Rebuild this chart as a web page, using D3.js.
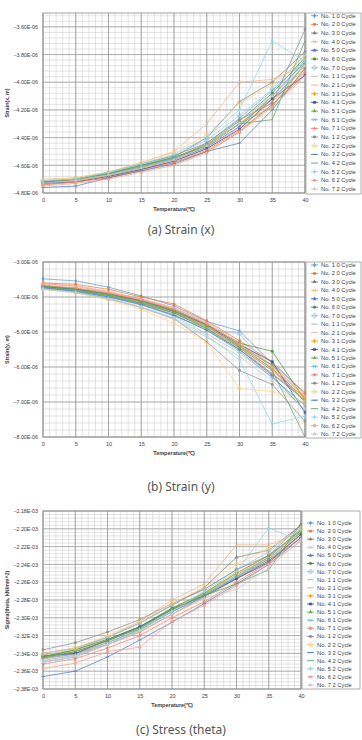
<!DOCTYPE html>
<html>
<head>
<meta charset="utf-8">
<script src="https://cdn.jsdelivr.net/npm/d3@7"></script>
<style>
body { margin: 0; background: #fff; }
svg text { font-family: "Liberation Sans", Arial, sans-serif; fill: #404040; }
.caption { font-family: "Noto Sans", "DejaVu Sans", sans-serif !important; fill: #555 !important; }
</style>
</head>
<body>
<div id="chart"></div>
<script>
const temps = [0, 5, 10, 15, 20, 25, 30, 35, 40];

const seriesNames = [
    "No. 1 0 Cycle", "No. 2 0 Cycle", "No. 3 0 Cycle", "No. 4 0 Cycle", "No. 5 0 Cycle", "No. 6 0 Cycle", "No. 7 0 Cycle",
    "No. 1 1 Cycle", "No. 2 1 Cycle", "No. 3 1 Cycle", "No. 4 1 Cycle", "No. 5 1 Cycle", "No. 6 1 Cycle", "No. 7 1 Cycle",
    "No. 1 2 Cycle", "No. 2 2 Cycle", "No. 3 2 Cycle", "No. 4 2 Cycle", "No. 5 2 Cycle", "No. 6 2 Cycle", "No. 7 2 Cycle"
];

// strain x, in E-06 m
const strainX = [
    [-4.72, -4.71, -4.67, -4.62, -4.55, -4.46, -4.30, -4.12, -3.88],
    [-4.74, -4.72, -4.69, -4.63, -4.58, -4.50, -4.36, -4.16, -3.95],
    [-4.72, -4.70, -4.66, -4.61, -4.54, -4.40, -4.14, -4.00, -3.78],
    [-4.70, -4.69, -4.65, -4.58, -4.50, -4.30, -4.00, -3.98, -3.88],
    [-4.73, -4.71, -4.67, -4.62, -4.56, -4.47, -4.32, -4.10, -3.85],
    [-4.72, -4.70, -4.66, -4.60, -4.55, -4.45, -4.28, -4.08, -3.82],
    [-4.71, -4.70, -4.66, -4.60, -4.53, -4.42, -4.24, -4.05, -3.80],
    [-4.73, -4.71, -4.67, -4.62, -4.55, -4.45, -4.28, -4.10, -3.86],
    [-4.74, -4.72, -4.68, -4.63, -4.57, -4.48, -4.33, -4.14, -3.92],
    [-4.72, -4.71, -4.67, -4.61, -4.55, -4.45, -4.30, -4.12, -3.90],
    [-4.73, -4.72, -4.68, -4.63, -4.57, -4.48, -4.34, -4.12, -3.95],
    [-4.72, -4.70, -4.66, -4.60, -4.55, -4.46, -4.30, -4.18, -3.86],
    [-4.72, -4.70, -4.66, -4.61, -4.55, -4.44, -4.26, -4.06, -3.84],
    [-4.74, -4.72, -4.69, -4.64, -4.58, -4.49, -4.35, -4.16, -3.93],
    [-4.72, -4.70, -4.65, -4.59, -4.53, -4.44, -4.27, -4.15, -3.62],
    [-4.71, -4.69, -4.65, -4.58, -4.51, -4.38, -4.15, -4.02, -3.82],
    [-4.76, -4.75, -4.69, -4.64, -4.59, -4.50, -4.44, -4.20, -3.90],
    [-4.72, -4.70, -4.66, -4.60, -4.54, -4.46, -4.30, -4.27, -3.70],
    [-4.71, -4.70, -4.65, -4.59, -4.52, -4.40, -4.20, -3.70, -3.85],
    [-4.75, -4.73, -4.70, -4.65, -4.60, -4.51, -4.36, -4.18, -3.96],
    [-4.73, -4.71, -4.67, -4.62, -4.56, -4.46, -4.30, -4.10, -3.88]
];

// strain y, in E-06 m
const strainY = [
    [-3.48, -3.54, -3.72, -3.97, -4.25, -4.70, -4.97, -5.90, -6.75],
    [-3.60, -3.64, -3.78, -4.00, -4.20, -4.68, -5.25, -5.85, -6.75],
    [-3.74, -3.82, -3.98, -4.18, -4.45, -4.90, -5.50, -6.20, -6.95],
    [-3.70, -3.78, -3.92, -4.10, -4.38, -4.80, -5.35, -5.95, -6.85],
    [-3.72, -3.80, -3.95, -4.15, -4.42, -4.85, -5.40, -6.05, -7.00],
    [-3.68, -3.76, -3.90, -4.10, -4.36, -4.78, -5.32, -5.55, -6.95],
    [-3.70, -3.78, -3.96, -4.20, -4.55, -4.90, -5.05, -6.10, -7.00],
    [-3.76, -3.84, -4.00, -4.22, -4.55, -5.05, -5.60, -6.30, -7.10],
    [-3.62, -3.68, -3.84, -4.05, -4.30, -4.72, -5.30, -5.95, -6.80],
    [-3.72, -3.80, -3.96, -4.16, -4.44, -4.86, -5.42, -6.05, -6.90],
    [-3.70, -3.78, -3.92, -4.12, -4.40, -4.80, -5.36, -5.85, -7.30],
    [-3.68, -3.76, -3.92, -4.12, -4.40, -4.82, -5.40, -5.95, -7.00],
    [-3.74, -3.82, -3.98, -4.20, -4.50, -4.95, -5.55, -6.30, -7.10],
    [-3.66, -3.74, -3.88, -4.08, -4.35, -4.78, -5.45, -6.20, -6.85],
    [-3.76, -3.86, -4.04, -4.30, -4.62, -5.28, -6.10, -6.50, -7.55],
    [-3.78, -3.88, -4.08, -4.35, -4.75, -5.30, -6.62, -6.70, -7.00],
    [-3.74, -3.84, -4.00, -4.22, -4.52, -4.95, -5.50, -6.25, -7.25],
    [-3.72, -3.80, -3.96, -4.18, -4.46, -4.90, -5.45, -6.10, -8.00],
    [-3.76, -3.86, -4.04, -4.28, -4.60, -5.10, -5.80, -7.63, -7.40],
    [-3.62, -3.70, -3.86, -4.06, -4.32, -4.75, -5.35, -6.00, -6.85],
    [-3.78, -3.88, -4.06, -4.30, -4.64, -5.15, -5.70, -6.40, -7.20]
];

// sigma theta, in E-03 kN/mm^2
const sigmaTheta = [
    [-2.343, -2.338, -2.326, -2.311, -2.291, -2.273, -2.252, -2.232, -2.200],
    [-2.345, -2.341, -2.330, -2.316, -2.296, -2.276, -2.255, -2.236, -2.210],
    [-2.340, -2.334, -2.322, -2.306, -2.286, -2.266, -2.232, -2.224, -2.196],
    [-2.342, -2.336, -2.322, -2.304, -2.280, -2.262, -2.218, -2.218, -2.204],
    [-2.346, -2.340, -2.328, -2.313, -2.293, -2.276, -2.256, -2.236, -2.206],
    [-2.344, -2.336, -2.324, -2.310, -2.289, -2.272, -2.250, -2.230, -2.202],
    [-2.342, -2.335, -2.322, -2.306, -2.285, -2.268, -2.246, -2.226, -2.198],
    [-2.346, -2.340, -2.328, -2.313, -2.292, -2.274, -2.252, -2.232, -2.204],
    [-2.348, -2.342, -2.330, -2.316, -2.296, -2.278, -2.256, -2.234, -2.208],
    [-2.344, -2.338, -2.326, -2.310, -2.290, -2.272, -2.250, -2.230, -2.204],
    [-2.343, -2.340, -2.325, -2.310, -2.290, -2.275, -2.256, -2.238, -2.206],
    [-2.344, -2.336, -2.325, -2.312, -2.290, -2.274, -2.254, -2.234, -2.204],
    [-2.350, -2.344, -2.330, -2.314, -2.293, -2.276, -2.254, -2.232, -2.200],
    [-2.352, -2.346, -2.334, -2.320, -2.300, -2.282, -2.260, -2.238, -2.210],
    [-2.336, -2.328, -2.316, -2.302, -2.284, -2.268, -2.246, -2.230, -2.195],
    [-2.340, -2.334, -2.320, -2.304, -2.284, -2.266, -2.240, -2.222, -2.200],
    [-2.366, -2.360, -2.344, -2.325, -2.305, -2.284, -2.262, -2.240, -2.210],
    [-2.345, -2.338, -2.326, -2.311, -2.291, -2.275, -2.262, -2.246, -2.194],
    [-2.348, -2.342, -2.330, -2.314, -2.293, -2.270, -2.248, -2.199, -2.214],
    [-2.357, -2.351, -2.338, -2.333, -2.304, -2.286, -2.264, -2.240, -2.214],
    [-2.350, -2.343, -2.330, -2.315, -2.296, -2.278, -2.268, -2.244, -2.212]
];

const colors = [
    "#5b9bd5", "#ed7d31", "#7f7f7f", "#f4b183", "#4472c4", "#3f8f3f", "#9dc3e6",
    "#bfbfbf", "#f4a58a", "#ffa500", "#2f5597", "#70ad47", "#5fb7d4", "#f08070",
    "#8c8c8c", "#ffd27f", "#4a7ebb", "#5aa55a", "#8fd3ee", "#f4a08a", "#c8c8c8"
];
// excel marker cycle
const markerCycle = ["diamond", "square", "triangle", "x", "star", "circle", "plus", "dash", "none"];

const svg = d3.select("#chart").append("svg")
    .attr("width", 362)
    .attr("height", 740);

function markerPath(kind) {
    const map = {
        diamond: d3.symbolDiamond, square: d3.symbolSquare, triangle: d3.symbolTriangle,
        x: d3.symbolX, star: d3.symbolStar, circle: d3.symbolCircle, plus: d3.symbolCross
    };
    if (kind === "dash") return "M-2,0H2";
    if (kind === "none") return "";
    return d3.symbol().type(map[kind]).size(kind === "plus" || kind === "x" ? 10 : 7)();
}

function drawPanel(p) {
    const g = svg.append("g");
    const x = d3.scaleLinear().domain([0, 40]).range([43, p.right]);
    const y = d3.scaleLinear().domain(p.domain).range([p.bottom, p.top]);

    const nMinorY = Math.round((p.domain[1] - p.domain[0]) / p.minor);
    const minorY = d3.range(nMinorY + 1).map(i => p.domain[0] + i * p.minor);
    const minorX = d3.range(41);

    // minor grid
    g.append("g").selectAll("line").data(minorX).enter().append("line")
        .attr("x1", d => x(d)).attr("x2", d => x(d))
        .attr("y1", p.top).attr("y2", p.bottom)
        .attr("stroke", "#d0d0d0").attr("stroke-width", 0.6);
    g.append("g").selectAll("line").data(minorY).enter().append("line")
        .attr("x1", 43).attr("x2", p.right)
        .attr("y1", d => y(d)).attr("y2", d => y(d))
        .attr("stroke", "#d0d0d0").attr("stroke-width", 0.6);

    // major grid
    g.append("g").selectAll("line").data(temps).enter().append("line")
        .attr("x1", d => x(d)).attr("x2", d => x(d))
        .attr("y1", p.top).attr("y2", p.bottom)
        .attr("stroke", "#8a8a8a").attr("stroke-width", 0.7);
    g.append("g").selectAll("line").data(p.ticks).enter().append("line")
        .attr("x1", 43).attr("x2", p.right)
        .attr("y1", d => y(d)).attr("y2", d => y(d))
        .attr("stroke", "#9a9a9a").attr("stroke-width", 0.7);

    g.append("rect")
        .attr("x", 43).attr("y", p.top)
        .attr("width", p.right - 43).attr("height", p.bottom - p.top)
        .attr("fill", "none").attr("stroke", "#8a8a8a").attr("stroke-width", 0.8);

    // axes
    const yAxis = g.append("g")
        .attr("transform", "translate(43,0)")
        .call(d3.axisLeft(y).tickValues(p.ticks).tickSize(0).tickPadding(5)
            .tickFormat(d => d3.format(p.fmt)(d) + p.exp));
    yAxis.select(".domain").remove();
    yAxis.selectAll("text").style("font-size", "5.3px").attr("font-family", null);

    const xAxis = g.append("g")
        .attr("transform", `translate(0,${p.bottom})`)
        .call(d3.axisBottom(x).tickValues(temps).tickSize(0).tickPadding(5));
    xAxis.select(".domain").remove();
    xAxis.selectAll("text").style("font-size", "5.5px").attr("font-family", null);

    g.append("text")
        .attr("text-anchor", "middle")
        .attr("x", (43 + p.right) / 2).attr("y", p.bottom + 18)
        .style("font-size", "5.5px").style("font-weight", "bold")
        .text("Temperature(℃)");

    g.append("text")
        .attr("text-anchor", "middle")
        .attr("transform", `translate(9,${(p.top + p.bottom) / 2})rotate(-90)`)
        .style("font-size", "5.3px").style("font-weight", "bold")
        .text(p.yTitle);

    // series
    const line = d3.line().x((d, i) => x(temps[i])).y(d => y(d));
    p.data.forEach((vals, s) => {
        g.append("path")
            .attr("d", line(vals))
            .attr("fill", "none")
            .attr("stroke", colors[s])
            .attr("stroke-width", 0.9)
            .attr("opacity", 0.8);
        const kind = markerCycle[s % markerCycle.length];
        g.append("g").selectAll("path").data(vals).enter().append("path")
            .attr("transform", (d, i) => `translate(${x(temps[i])},${y(d)})`)
            .attr("d", markerPath(kind))
            .attr("fill", kind === "x" || kind === "plus" || kind === "dash" ? "none" : colors[s])
            .attr("stroke", kind === "x" || kind === "plus" || kind === "dash" ? colors[s] : "none")
            .attr("stroke-width", 0.7)
            .attr("opacity", 0.85);
    });

    // legend
    const lg = g.append("g");
    lg.append("rect")
        .attr("x", p.legend.x).attr("y", p.legend.y)
        .attr("width", p.legend.w).attr("height", p.legend.h)
        .attr("fill", "#fff").attr("stroke", "#9a9a9a").attr("stroke-width", 0.8);
    seriesNames.forEach((name, s) => {
        const yy = p.legend.first + s * p.legend.step;
        const lx = p.legend.x + 5;
        lg.append("line")
            .attr("x1", lx).attr("x2", lx + 7)
            .attr("y1", yy).attr("y2", yy)
            .attr("stroke", colors[s]).attr("stroke-width", 0.9);
        const kind = markerCycle[s % markerCycle.length];
        lg.append("path")
            .attr("transform", `translate(${lx + 3.5},${yy})`)
            .attr("d", markerPath(kind))
            .attr("fill", kind === "x" || kind === "plus" || kind === "dash" ? "none" : colors[s])
            .attr("stroke", kind === "x" || kind === "plus" || kind === "dash" ? colors[s] : "none")
            .attr("stroke-width", 0.7);
        lg.append("text")
            .attr("x", lx + 10).attr("y", yy + 2)
            .style("font-size", "5.8px")
            .text(name);
    });

    svg.append("text")
        .attr("class", "caption")
        .attr("text-anchor", "middle")
        .attr("x", 181).attr("y", p.captionY)
        .style("font-size", "12px")
        .text(p.caption);
}

drawPanel({
    data: strainX, top: 13, bottom: 193, right: 305,
    domain: [-4.8, -3.5], ticks: [-4.8, -4.6, -4.4, -4.2, -4.0, -3.8, -3.6], minor: 0.04,
    fmt: ".2f", exp: "E-06", yTitle: "Strain(x, m)",
    legend: { x: 306, y: 13, w: 55, h: 181, first: 15.7, step: 8.67 },
    caption: "(a) Strain (x)", captionY: 234
});

drawPanel({
    data: strainY, top: 262, bottom: 437, right: 305,
    domain: [-8, -3], ticks: [-8, -7, -6, -5, -4, -3], minor: 0.2,
    fmt: ".2f", exp: "E-06", yTitle: "Strain(y, m)",
    legend: { x: 306, y: 262, w: 55, h: 176, first: 265, step: 8.45 },
    caption: "(b) Strain (y)", captionY: 491
});

drawPanel({
    data: sigmaTheta, top: 511, bottom: 689, right: 301,
    domain: [-2.38, -2.18], ticks: [-2.38, -2.36, -2.34, -2.32, -2.30, -2.28, -2.26, -2.24, -2.22, -2.20, -2.18], minor: 0.004,
    fmt: ".2f", exp: "E-03", yTitle: "Sigma(theta, kN/mm^2)",
    legend: { x: 302, y: 511, w: 58, h: 178, first: 523, step: 8.1 },
    caption: "(c) Stress (theta)", captionY: 734
});
</script>
</body>
</html>
